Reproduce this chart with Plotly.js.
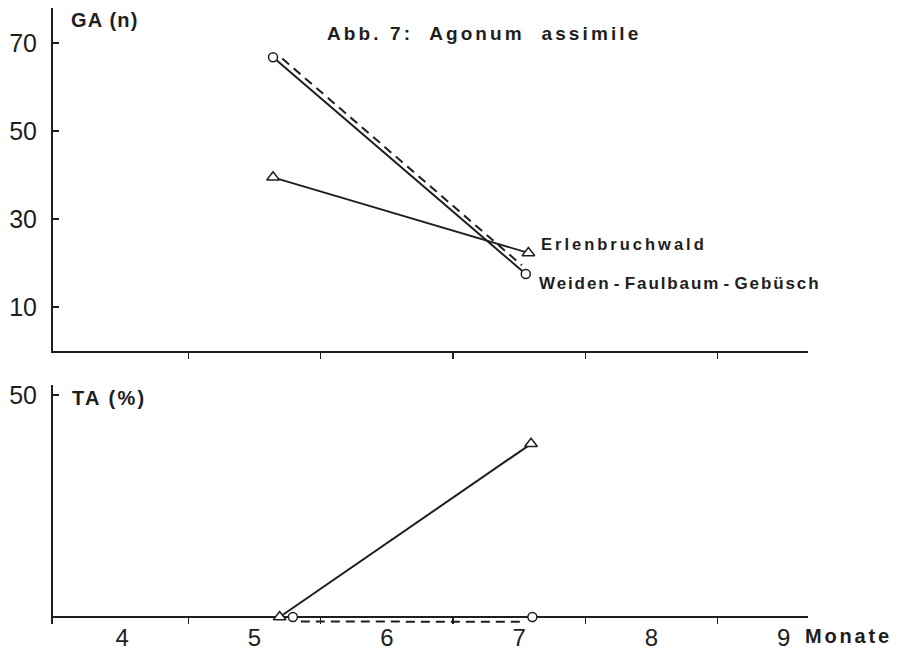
<!DOCTYPE html>
<html>
<head>
<meta charset="utf-8">
<script src="https://cdn.plot.ly/plotly-3.0.1.min.js"></script>
<style>html,body{margin:0;padding:0;background:#fff;}#chart{width:901px;height:656px;}</style>
</head>
<body>
<div id="chart"></div>
<script>
// ---- data ----
const monthTicks = [4, 5, 6, 7, 8, 9];
const monthLabels = ['4', '5', '6', '7', '8', '9'];
const halfMonthTicks = [4.5, 5.5, 6.5, 7.5, 8.5];
const gaTicks = [10, 30, 50, 70];
const taTicks = [50];

// GA(n) panel
const erlenGA_x = [5.14, 7.07];
const erlenGA_y = [39.5, 22.3];
const weidenGA_x = [5.14, 7.05];
const weidenGA_y = [66.8, 17.5];
const weidenGAdash_x = [5.21, 7.02];
const weidenGAdash_y = [66.5, 19.5];

// TA(%) panel
const erlenTA_x = [5.19, 7.09];
const erlenTA_y = [0, 39];
const weidenTA_x = [5.29, 7.10];
const weidenTA_y = [0, 0];
const weidenTAdash_x = [5.35, 7.05];
const weidenTAdash_y = [-1.0, -1.1];

// ---- layout helpers (pixel -> paper) ----
const W = 901, H = 656;
const mL = 53, mR = W - 808, mT = 8, mB = H - 624;
const plotW = W - mL - mR, plotH = H - mT - mB;
const px = p => (p - mL) / plotW;
const py = p => (H - mB - p) / plotH;

const ink = '#1e1e1e';
const FONT = 'Liberation Sans, Arial, sans-serif';

const triMarker = {symbol: 'triangle-up', size: 11, color: '#fff', line: {color: ink, width: 1.5}};
const circMarker = {symbol: 'circle', size: 9, color: '#fff', line: {color: ink, width: 1.5}};

const traces = [
  {x: weidenGAdash_x, y: weidenGAdash_y, xaxis: 'x', yaxis: 'y', mode: 'lines',
   line: {color: ink, width: 2, dash: '9px,6px'}, hoverinfo: 'skip'},
  {x: weidenGA_x, y: weidenGA_y, xaxis: 'x', yaxis: 'y', mode: 'lines+markers',
   line: {color: ink, width: 2}, marker: circMarker, cliponaxis: false},
  {x: erlenGA_x, y: erlenGA_y, xaxis: 'x', yaxis: 'y', mode: 'lines+markers',
   line: {color: ink, width: 1.8}, marker: triMarker, cliponaxis: false},
  {x: weidenTAdash_x, y: weidenTAdash_y, xaxis: 'x2', yaxis: 'y2', mode: 'lines',
   line: {color: ink, width: 2, dash: '9px,6px'}, hoverinfo: 'skip'},
  {x: erlenTA_x, y: erlenTA_y, xaxis: 'x2', yaxis: 'y2', mode: 'lines+markers',
   line: {color: ink, width: 2}, marker: triMarker, cliponaxis: false},
  {x: weidenTA_x, y: weidenTA_y, xaxis: 'x2', yaxis: 'y2', mode: 'markers',
   marker: circMarker, cliponaxis: false}
];

const xRange = [3.477, 9.183];
const topDomain = [py(351), py(8)];
const botDomain = [py(624), py(385)];

const layout = {
  width: W, height: H,
  margin: {l: mL, r: mR, t: mT, b: mB},
  paper_bgcolor: '#fff', plot_bgcolor: '#fff',
  showlegend: false,
  font: {family: FONT, color: ink},
  xaxis: {
    domain: [0, 1], anchor: 'y', range: xRange,
    showline: true, linecolor: ink, linewidth: 2,
    showgrid: false, zeroline: false,
    tickmode: 'array', tickvals: halfMonthTicks,
    ticks: 'outside', ticklen: 6, tickwidth: 1.5, tickcolor: ink,
    showticklabels: false
  },
  yaxis: {
    domain: topDomain, anchor: 'x', range: [0, 78],
    showline: true, linecolor: ink, linewidth: 2,
    showgrid: false, zeroline: false,
    tickmode: 'array', tickvals: gaTicks,
    ticks: 'inside', ticklen: 6, tickwidth: 1.5, tickcolor: ink,
    ticklabelstandoff: 9,
    tickfont: {size: 25, family: FONT, color: ink}
  },
  xaxis2: {
    domain: [0, 1], anchor: 'y2', range: xRange,
    showline: false,
    showgrid: false, zeroline: false,
    tickmode: 'array', tickvals: monthTicks, ticktext: monthLabels,
    ticks: '',
    ticklabelstandoff: -3,
    tickfont: {size: 24, family: FONT, color: ink},
    minor: {tickmode: 'array', tickvals: halfMonthTicks, ticks: 'inside',
            ticklen: 7, tickwidth: 1.5, tickcolor: ink, showgrid: false}
  },
  yaxis2: {
    domain: botDomain, anchor: 'x2', range: [-1.58, 52.25],
    showline: true, linecolor: ink, linewidth: 2,
    showgrid: false,
    zeroline: true, zerolinecolor: ink, zerolinewidth: 2,
    tickmode: 'array', tickvals: taTicks,
    ticks: 'inside', ticklen: 6, tickwidth: 1.5, tickcolor: ink,
    ticklabelstandoff: 9,
    tickfont: {size: 25, family: FONT, color: ink}
  },
  annotations: [
    {text: 'GA (n)', x: px(69), y: py(20), font: {size: 20}},
    {text: 'TA (%)', x: px(70), y: py(398), font: {size: 20}},
    {text: 'Abb. 7:  Agonum  assimile', x: px(325), y: py(33), font: {size: 19}},
    {text: 'Erlenbruchwald', x: px(539), y: py(244), font: {size: 16.5}},
    {text: 'Weiden\u200A-\u200AFaulbaum\u200A-\u200AGebüsch', x: px(537), y: py(283), font: {size: 17}},
    {text: 'Monate', x: px(803), y: py(636), font: {size: 20}}
  ].map(a => Object.assign({
    xref: 'paper', yref: 'paper', xanchor: 'left', yanchor: 'middle', align: 'left',
    showarrow: false
  }, a, {font: Object.assign({family: FONT, color: ink, weight: 'bold'}, a.font)}))
};

// letter spacing per annotation (typographic style of the original print)
const annSpacing = ['1.2px', '2.2px', '3.1px', '3px', '1.9px', '2.8px'];

Plotly.newPlot('chart', traces, layout, {displayModeBar: false, staticPlot: true}).then(() => {
  annSpacing.forEach((s, i) => {
    const t = document.querySelector('#chart g.annotation[data-index="' + i + '"] text.annotation-text');
    if (t) t.style.letterSpacing = s;
  });
});
</script>
</body>
</html>
